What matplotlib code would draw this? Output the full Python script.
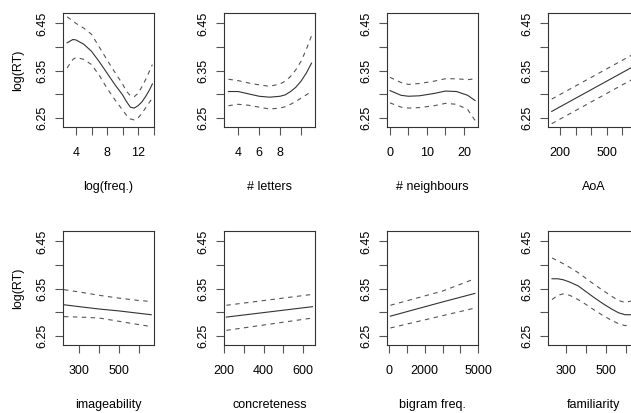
import matplotlib
matplotlib.use("Agg")
import matplotlib.pyplot as plt

plt.rcParams["font.family"] = ["Liberation Sans", "DejaVu Sans"]
plt.rcParams["font.size"] = 9

# ---- data (fit + upper/lower confidence bands) ----
freq_x = [2.85, 3.6, 4, 5, 6, 7, 8, 9, 10, 10.5, 11, 11.5, 12, 12.5, 13, 13.5, 13.85]
freq_fit = [6.409, 6.416, 6.415, 6.406, 6.391, 6.369, 6.345, 6.321, 6.299, 6.285,
            6.273, 6.271, 6.276, 6.284, 6.296, 6.310, 6.322]
freq_hi = [6.464, 6.455, 6.450, 6.440, 6.427, 6.400, 6.373, 6.347, 6.322, 6.307,
           6.297, 6.295, 6.302, 6.316, 6.332, 6.350, 6.363]
freq_lo = [6.356, 6.374, 6.378, 6.374, 6.363, 6.340, 6.313, 6.289, 6.267, 6.256,
           6.248, 6.246, 6.250, 6.260, 6.272, 6.284, 6.292]

letters_x = [3.07, 4, 5, 6, 7, 8, 8.5, 9, 9.5, 10, 10.5, 11]
letters_fit = [6.306, 6.306, 6.301, 6.296, 6.294, 6.296, 6.299, 6.306, 6.315, 6.328, 6.345, 6.366]
letters_hi = [6.332, 6.329, 6.324, 6.320, 6.317, 6.322, 6.328, 6.338, 6.352, 6.370, 6.395, 6.424]
letters_lo = [6.276, 6.279, 6.277, 6.273, 6.269, 6.271, 6.274, 6.279, 6.285, 6.292, 6.299, 6.306]

neigh_x = [0, 3, 5, 8, 12, 15, 18, 21, 23]
neigh_fit = [6.308, 6.298, 6.296, 6.297, 6.302, 6.307, 6.306, 6.298, 6.287]
neigh_hi = [6.336, 6.325, 6.321, 6.323, 6.328, 6.333, 6.333, 6.331, 6.333]
neigh_lo = [6.282, 6.273, 6.271, 6.272, 6.276, 6.281, 6.279, 6.268, 6.245]

aoa_x = [147, 700]
aoa_fit = [6.264, 6.364]
aoa_hi = [6.290, 6.390]
aoa_lo = [6.238, 6.338]

image_x = [222, 300, 400, 500, 600, 661]
image_fit = [6.316, 6.312, 6.307, 6.303, 6.298, 6.295]
image_hi = [6.348, 6.343, 6.336, 6.330, 6.325, 6.323]
image_lo = [6.291, 6.290, 6.288, 6.281, 6.274, 6.270]

concr_x = [212, 647]
concr_fit = [6.290, 6.312]
concr_hi = [6.315, 6.338]
concr_lo = [6.262, 6.288]

bigram_x = [60, 3000, 4820]
bigram_fit = [6.292, 6.322, 6.340]
bigram_hi = [6.315, 6.345, 6.371]
bigram_lo = [6.267, 6.293, 6.309]

famil_x = [231, 260, 287, 320, 362, 404, 446, 488, 530, 565, 597, 627]
famil_fit = [6.371, 6.371, 6.369, 6.364, 6.356, 6.343, 6.330, 6.318, 6.307, 6.299, 6.295, 6.295]
famil_hi = [6.415, 6.409, 6.403, 6.395, 6.384, 6.371, 6.358, 6.346, 6.334, 6.325, 6.321, 6.324]
famil_lo = [6.327, 6.336, 6.339, 6.336, 6.327, 6.316, 6.304, 6.293, 6.283, 6.276, 6.272, 6.273]

xlabels = ["log(freq.)", "# letters", "# neighbours", "AoA",
           "imageability", "concreteness", "bigram freq.", "familiarity"]

xticks = [[4, 6, 8, 10, 12, 14], [4, 6, 8, 10], [0, 5, 10, 15, 20],
          [200, 300, 400, 500, 600], [300, 400, 500, 600],
          [200, 300, 400, 500, 600], [0, 1000, 2000, 3000, 4000, 5000],
          [300, 400, 500, 600]]
xticklabels = [["4", "", "8", "", "12", ""], ["4", "6", "8", ""],
               ["0", "", "10", "", "20"], ["200", "", "", "500", ""],
               ["300", "", "500", ""], ["200", "", "400", "", "600"],
               ["0", "", "2000", "", "", "5000"], ["300", "", "500", ""]]
xlims = [(2.32, 14.06), (2.65, 11.33), (-0.8, 23.8), (123, 708),
         (217, 675), (200, 660), (-130, 5000), (211, 667)]

yticks = [6.25, 6.30, 6.35, 6.40, 6.45]
yticklabels = ["6.25", "", "6.35", "", "6.45"]

series = [(freq_x, freq_fit, freq_hi, freq_lo),
          (letters_x, letters_fit, letters_hi, letters_lo),
          (neigh_x, neigh_fit, neigh_hi, neigh_lo),
          (aoa_x, aoa_fit, aoa_hi, aoa_lo),
          (image_x, image_fit, image_hi, image_lo),
          (concr_x, concr_fit, concr_hi, concr_lo),
          (bigram_x, bigram_fit, bigram_hi, bigram_lo),
          (famil_x, famil_fit, famil_hi, famil_lo)]

W, H = 631, 413
fig = plt.figure(figsize=(W / 100, H / 100), dpi=100)

lefts = [63, 224, 387, 548]
tops = [13, 231]
aw, ah = 91, 114

for i, (x, fit, hi, lo) in enumerate(series):
    r, c = divmod(i, 4)
    ax = fig.add_axes([lefts[c] / W, (H - tops[r] - ah) / H, aw / W, ah / H])
    ax.plot(x, fit, color="#333333", lw=0.8)
    ax.plot(x, hi, color="#555555", lw=0.8, dashes=(4, 4))
    ax.plot(x, lo, color="#555555", lw=0.8, dashes=(4, 4))
    ax.set_xlim(*xlims[i])
    ax.set_ylim(6.231, 6.472)
    ax.set_xticks(xticks[i])
    ax.set_xticklabels(xticklabels[i])
    ax.set_yticks(yticks)
    ax.set_yticklabels(yticklabels, rotation=90, va="center")
    ax.tick_params(length=5.5, width=0.8, color="#555555", pad=9)
    ax.tick_params(axis="y", pad=5)
    for s in ax.spines.values():
        s.set_linewidth(0.8)
        s.set_color("#333333")
    ax.set_xlabel(xlabels[i], labelpad=16)
    if c == 0:
        ax.set_ylabel("log(RT)", labelpad=9)

fig.savefig("out.png", dpi=100)
